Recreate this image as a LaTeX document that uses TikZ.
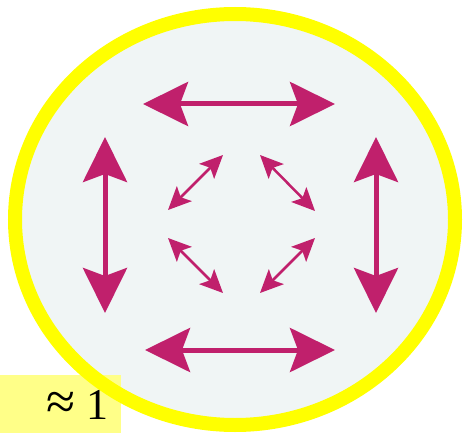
\documentclass[tikz,border=0pt]{standalone}
\usepackage{fontspec}
\setmainfont{Liberation Serif}
\usetikzlibrary{arrows.meta}
\definecolor{arrowpink}{RGB}{192,32,108}
\definecolor{discfill}{RGB}{240,245,245}
\definecolor{ringyellow}{RGB}{255,255,0}
\definecolor{labelyellow}{RGB}{255,255,136}

\begin{document}
\begin{tikzpicture}[x=1pt,y=-1pt,
    bigarrow/.style={draw=arrowpink,line width=5pt,
        {Stealth[length=45pt,width=44pt,inset=8pt]}-{Stealth[length=45pt,width=44pt,inset=8pt]}},
    smallarrow/.style={draw=arrowpink,line width=2.5pt,
        {Stealth[length=23pt,width=21pt,inset=5pt]}-{Stealth[length=23pt,width=21pt,inset=5pt]}}]
    \useasboundingbox (0,0) rectangle (468,433);

    % Disc
    \coordinate (centre) at (235,219.5);
    \fill[discfill] (centre) ellipse [x radius=220, y radius=205.5];

    % Label box
    \fill[labelyellow] (0,375) rectangle (121,433);

    % Yellow ring
    \draw[ringyellow,line width=14pt] (centre) ellipse [x radius=220, y radius=205.5];

    % Outer arrows
    \coordinate (topL) at (143,104);  \coordinate (topR) at (335,104);
    \coordinate (botL) at (145,350);  \coordinate (botR) at (335,350);
    \coordinate (lftT) at (105,137);  \coordinate (lftB) at (105,313);
    \coordinate (rgtT) at (376,137);  \coordinate (rgtB) at (376,313);
    \draw[bigarrow] (topL) -- (topR);
    \draw[bigarrow] (botL) -- (botR);
    \draw[bigarrow] (lftT) -- (lftB);
    \draw[bigarrow] (rgtT) -- (rgtB);

    % Inner arrows
    \coordinate (tlA) at (168,210);  \coordinate (tlB) at (223,155);
    \coordinate (trA) at (260,155);  \coordinate (trB) at (315,211);
    \coordinate (blA) at (168,238);  \coordinate (blB) at (223,293);
    \coordinate (brA) at (260,293);  \coordinate (brB) at (315,238);
    \draw[smallarrow] (tlA) -- (tlB);
    \draw[smallarrow] (trA) -- (trB);
    \draw[smallarrow] (blA) -- (blB);
    \draw[smallarrow] (brA) -- (brB);

    % Label
    \node[anchor=base west,inner sep=0pt,font=\fontsize{44}{44}\selectfont] (approx) at (46,419) {\scalebox{1.2}{≈} 1};
\end{tikzpicture}
\end{document}
